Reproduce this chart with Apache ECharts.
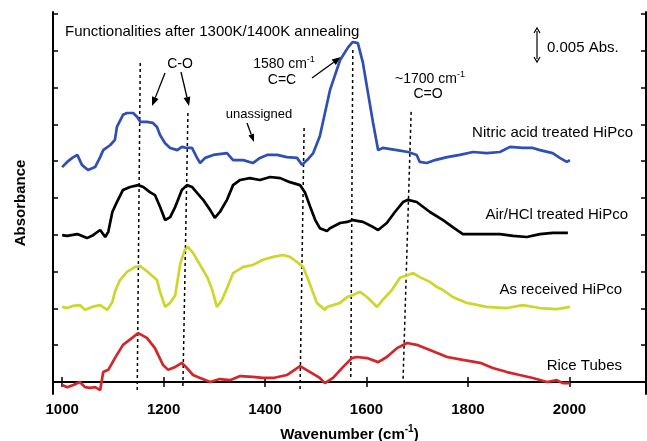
<!DOCTYPE html>
<html><head><meta charset="utf-8">
<script src="https://cdn.jsdelivr.net/npm/echarts@6/dist/echarts.min.js"></script>
<style>html,body{margin:0;padding:0;background:#fff}#c{width:647px;height:441px}</style>
</head><body><div id="c"></div>
<script>
const xTicks = [1000,1200,1400,1600,1800,2000];
const yTicks = [0,1,2,3,4,5,6,7,8,9,10];

const nitricX = [1000,1010,1020,1030,1039,1051,1065,1075,1081,1095,1104,1108,1120,1128,1140,1148,1154,1167,1179,1187,1193,1203,1213,1227,1236,1246,1256,1266,1272,1282,1298,1325,1337,1357,1376,1390,1404,1424,1443,1463,1473,1483,1495,1508,1528,1548,1564,1573,1583,1593,1603,1613,1623,1632,1660,1682,1699,1705,1719,1735,1759,1784,1810,1837,1863,1883,1908,1928,1942,1967,1981,1995,2001];
const nitricY = [5.84,5.98,6.09,6.17,5.90,5.76,5.84,6.11,6.30,6.44,6.58,6.93,7.26,7.31,7.31,7.20,7.07,7.07,7.04,6.93,6.71,6.49,6.36,6.30,6.39,6.36,6.36,6.09,5.95,6.09,6.17,6.22,6.03,6.03,5.95,6.09,6.17,6.17,6.11,6.09,5.90,6.03,6.22,6.68,7.93,8.75,9.10,9.24,9.21,8.67,7.85,7.04,6.30,6.36,6.30,6.25,6.17,5.98,5.95,6.03,6.11,6.17,6.25,6.22,6.25,6.39,6.36,6.36,6.30,6.22,6.09,5.98,6.03];

const airX = [1000,1010,1030,1049,1061,1075,1085,1091,1099,1108,1120,1134,1150,1160,1173,1183,1193,1203,1213,1223,1236,1246,1256,1266,1278,1292,1301,1311,1325,1337,1351,1370,1390,1410,1430,1449,1469,1479,1489,1499,1508,1522,1528,1548,1562,1573,1593,1613,1623,1640,1656,1672,1682,1699,1725,1751,1770,1790,1824,1863,1889,1916,1942,1967,1997];
const airY = [3.99,3.97,4.02,3.91,3.99,4.13,3.94,4.08,4.62,4.89,5.22,5.30,5.35,5.30,5.16,5.08,4.76,4.40,4.48,4.76,5.22,5.35,5.30,5.14,4.95,4.67,4.46,4.62,4.95,5.35,5.49,5.54,5.49,5.57,5.54,5.43,5.35,5.14,4.76,4.40,4.18,4.10,4.18,4.32,4.35,4.40,4.35,4.21,4.13,4.32,4.62,4.89,4.95,4.89,4.62,4.40,4.21,4.02,4.02,4.02,3.97,3.94,4.02,4.05,4.05];

const asRecX = [1000,1010,1022,1035,1045,1059,1075,1089,1099,1104,1114,1128,1144,1154,1169,1187,1193,1203,1213,1223,1233,1242,1248,1258,1272,1286,1296,1305,1315,1325,1337,1357,1376,1396,1416,1435,1449,1463,1475,1489,1502,1518,1522,1548,1562,1573,1587,1601,1621,1632,1650,1666,1682,1692,1705,1725,1739,1751,1770,1798,1837,1877,1908,1942,1975,2001];
const asRecY = [2.04,2.01,2.07,2.09,1.96,2.04,2.09,1.96,2.17,2.45,2.77,2.99,3.13,3.15,2.99,2.77,2.45,2.04,2.15,2.36,3.23,3.59,3.67,3.51,3.18,2.85,2.50,2.04,2.23,2.55,2.96,3.13,3.18,3.32,3.40,3.45,3.40,3.26,3.13,2.64,2.15,1.96,2.04,2.15,2.31,2.36,2.45,2.31,2.04,2.23,2.50,2.83,2.91,2.96,2.85,2.72,2.58,2.50,2.31,2.15,2.04,2.01,2.09,2.01,1.98,2.04];

const riceX = [1000,1010,1022,1035,1045,1055,1065,1075,1081,1091,1104,1120,1138,1150,1167,1183,1199,1209,1223,1236,1246,1258,1272,1292,1311,1331,1351,1376,1396,1416,1443,1469,1489,1508,1518,1534,1554,1571,1581,1601,1623,1640,1660,1680,1699,1725,1759,1790,1824,1849,1877,1902,1928,1956,1975,1987,2001];
const riceY = [-0.08,-0.14,-0.08,0.00,-0.14,-0.16,-0.14,-0.22,0.27,0.33,0.65,1.01,1.20,1.33,1.20,0.92,0.46,0.33,0.41,0.52,0.38,0.19,0.11,0.00,0.08,0.05,0.16,0.14,0.11,0.11,0.19,0.43,0.27,0.11,-0.03,0.11,0.41,0.65,0.68,0.65,0.54,0.68,0.92,1.06,1.01,0.87,0.68,0.60,0.52,0.38,0.27,0.19,0.11,0.00,0.05,-0.03,-0.03];

const guideTopX = [1154,1248,1477,1573,1688];
const guideTopY = [8.67,7.31,6.90,9.02,7.34];
const guideBotX = [1148,1238,1469,1569,1672];
const guideBotY = [-0.22,-0.16,-0.19,0.08,0.03];

const seriesNames = ['Nitric acid treated HiPco','Air/HCl treated HiPco','As received HiPco','Rice Tubes'];
const seriesColors = ['#2f4fb5','#000000','#cdd62a','#d3262a'];

const zip = (a,b) => a.map((v,i)=>[v,b[i]]);
const FONT = '"Liberation Sans", Arial, Helvetica, sans-serif';

const chart = echarts.init(document.getElementById('c'), null, {renderer:'canvas'});

const xMin = 982, xMax = 2151, yMin = -0.326, yMax = 10.054;
const axisLine = {lineStyle:{color:'#000', width:2}};

const curveSeries = [[nitricX,nitricY],[airX,airY],[asRecX,asRecY],[riceX,riceY]].map((d,i)=>({
  type:'line', name:seriesNames[i], data:zip(d[0],d[1]), showSymbol:false, symbol:'none',
  lineStyle:{color:seriesColors[i], width:2.7}, z:3, animation:false
}));
const guideSeries = guideTopX.map((x,i)=>({
  type:'line', data:[[x,guideTopY[i]],[guideBotX[i],guideBotY[i]]], showSymbol:false, symbol:'none',
  lineStyle:{color:'#000', width:1.5, type:[3,3]}, z:2, animation:false
}));

function arrow(x1,y1,x2,y2,len,wid){
  const a = Math.atan2(y2-y1,x2-x1);
  const bx = x2 - len*Math.cos(a), by = y2 - len*Math.sin(a);
  const px = -Math.sin(a)*wid/2, py = Math.cos(a)*wid/2;
  return [
    {type:'line', shape:{x1,y1,x2:bx,y2:by}, style:{stroke:'#000', lineWidth:1.3}},
    {type:'polygon', shape:{points:[[x2,y2],[bx+px,by+py],[bx-px,by-py]]}, style:{fill:'#000'}}
  ];
}
function txt(text,x,y,size,align,bold){
  return {type:'text', x, y, style:{text, font:(bold?'bold ':'')+size+'px '+FONT, fill:'#000', textAlign:align||'center', textVerticalAlign:'middle'}};
}
function richTxt(parts,x,y,align){
  return {type:'text', x, y, style:{text:parts, fill:'#000', textAlign:align||'center', textVerticalAlign:'middle',
    rich:{a:{fontSize:14,fontFamily:FONT,lineHeight:16,verticalAlign:'bottom'}, s:{fontSize:9,fontFamily:FONT,lineHeight:16,verticalAlign:'top'}}}};
}

const graphics = [
  txt('Functionalities after 1300K/1400K annealing',65,32,15,'left'),
  txt('C-O',180,64,14),
  ...arrow(165,73,152,106,9,7),
  ...arrow(181,72,189,106,9,7),
  richTxt('{a|1580 cm}{s|-1}',284,63),
  txt('C=C',282,80,14),
  ...arrow(312,78,341,57,9,7),
  txt('unassigned',259,114,13),
  ...arrow(247,123,254,142,8,6),
  richTxt('{a|~1700 cm}{s|-1}',430,78),
  txt('C=O',428,94,14),
  {type:'line', shape:{x1:537,y1:31,x2:537,y2:59}, style:{stroke:'#000', lineWidth:1.2}},
  {type:'polyline', shape:{points:[[534,33],[537,28],[540,33]]}, style:{stroke:'#000', lineWidth:1.2, fill:null}},
  {type:'polyline', shape:{points:[[534,57],[537,62],[540,57]]}, style:{stroke:'#000', lineWidth:1.2, fill:null}},
  txt('0.005 Abs.',547,48,15,'left'),
  txt(seriesNames[0],633,133,15,'right'),
  txt(seriesNames[1],628,215,15,'right'),
  txt(seriesNames[2],622,290,15,'right'),
  txt(seriesNames[3],622,366,15,'right')
];

chart.setOption({
  animation:false,
  backgroundColor:'#fff',
  grid:{left:53, top:12, right:1, bottom:47, containLabel:false, outerBoundsMode:'none'},
  xAxis:[
    {type:'value', position:'bottom', min:xMin, max:xMax, axisLine, splitLine:{show:false},
     axisTick:{inside:true, length:5, customValues:xTicks, lineStyle:{color:'#000', width:1.5}},
     axisLabel:{customValues:xTicks, formatter:v=>String(v), color:'#000', fontWeight:'bold', fontSize:15, fontFamily:FONT, margin:8},
     name:'{a|Wavenumber (cm}{s|-1}{a|)}', nameLocation:'middle', nameGap:30,
     nameTextStyle:{rich:{a:{fontSize:15,fontWeight:'bold',fontFamily:FONT,color:'#000',lineHeight:18,verticalAlign:'bottom'}, s:{fontSize:10,fontWeight:'bold',fontFamily:FONT,color:'#000',lineHeight:18,verticalAlign:'top'}}}},
    {type:'value', position:'top', min:xMin, max:xMax, axisLine, splitLine:{show:false},
     axisTick:{inside:true, length:5, customValues:xTicks, lineStyle:{color:'#000', width:1.5}},
     axisLabel:{show:false}}
  ],
  yAxis:[
    {type:'value', position:'left', min:yMin, max:yMax, axisLine, splitLine:{show:false},
     axisTick:{inside:true, length:5, customValues:yTicks, lineStyle:{color:'#000', width:1.5}},
     axisLabel:{show:false},
     name:'Absorbance', nameLocation:'middle', nameRotate:90, nameGap:25,
     nameTextStyle:{fontSize:15, fontWeight:'bold', fontFamily:FONT, color:'#000'}},
    {type:'value', position:'right', min:yMin, max:yMax, axisLine, splitLine:{show:false},
     axisTick:{inside:true, length:5, customValues:yTicks, lineStyle:{color:'#000', width:1.5}},
     axisLabel:{show:false}}
  ],
  series:[...guideSeries, ...curveSeries],
  graphic:graphics
});
</script></body></html>
